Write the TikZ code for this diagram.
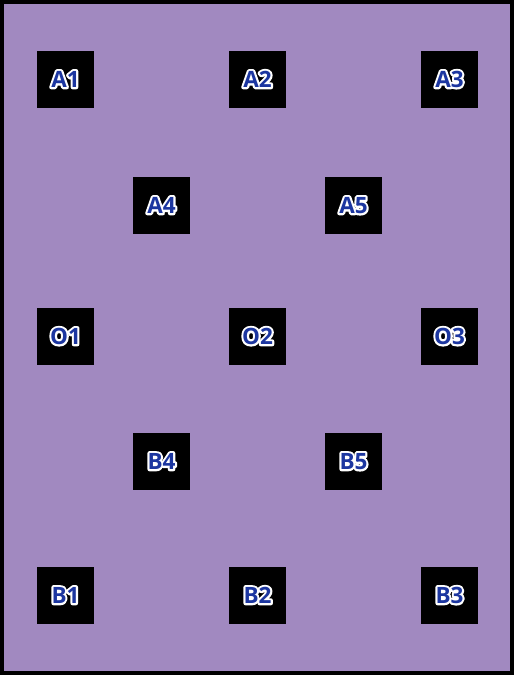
\documentclass[tikz,border=0pt]{standalone}
\usepackage{fontspec}
\setmainfont{Open Sans}
\definecolor{bgpurple}{RGB}{161,137,192}
\definecolor{txtblue}{RGB}{28,54,160}
\newcommand{\outlined}[1]{\rlap{\color{white}\special{pdf:literal direct 1 1 1 RG 4.2 w 1 j 1 Tr}#1\special{pdf:literal direct 0 Tr}}{\color{txtblue}#1}}
\tikzset{
  cell/.style={fill=black, minimum width=57pt, minimum height=57pt, inner sep=0pt,
    font=\fontsize{22.5pt}{24pt}\selectfont\bfseries, text height=15.5pt, text depth=0pt}
}
\begin{document}
\begin{tikzpicture}[x=1pt,y=-1pt]
\useasboundingbox (0,0) rectangle (514,675);
\fill[bgpurple] (0,0) rectangle (514,675);
\draw[black, line width=4pt] (2,2) rectangle (512,673);
\node[cell] (A1) at (65.5,79.5) {\outlined{A1}};
\node[cell] (A2) at (257.5,79.5) {\outlined{A2}};
\node[cell] (A3) at (449.5,79.5) {\outlined{A3}};
\node[cell] (A4) at (161.5,205.5) {\outlined{A4}};
\node[cell] (A5) at (353.5,205.5) {\outlined{A5}};
\node[cell] (O1) at (65.5,336.5) {\outlined{O1}};
\node[cell] (O2) at (257.5,336.5) {\outlined{O2}};
\node[cell] (O3) at (449.5,336.5) {\outlined{O3}};
\node[cell] (B4) at (161.5,461.5) {\outlined{B4}};
\node[cell] (B5) at (353.5,461.5) {\outlined{B5}};
\node[cell] (B1) at (65.5,595.5) {\outlined{B1}};
\node[cell] (B2) at (257.5,595.5) {\outlined{B2}};
\node[cell] (B3) at (449.5,595.5) {\outlined{B3}};
\end{tikzpicture}
\end{document}
